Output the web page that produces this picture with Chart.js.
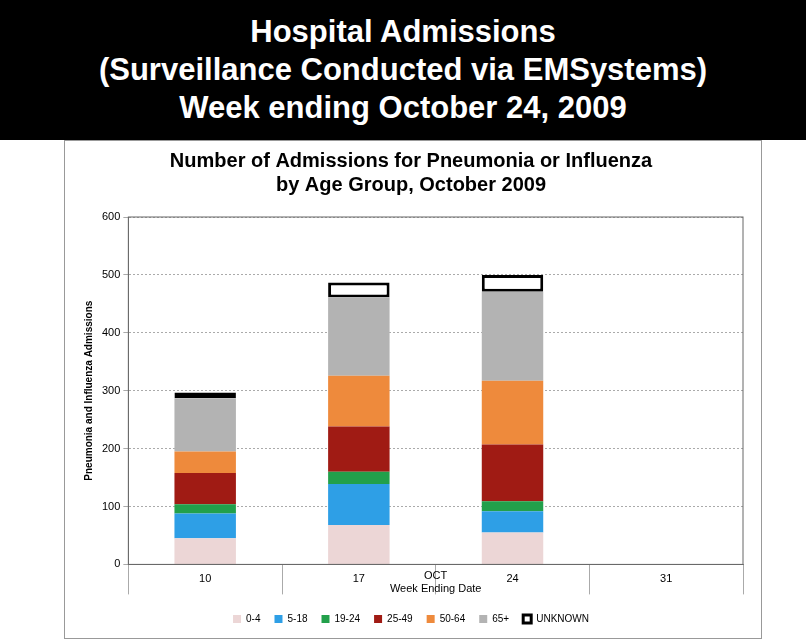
<!DOCTYPE html>
<html>
<head>
<meta charset="UTF-8">
<script src="https://cdn.jsdelivr.net/npm/chart.js"></script>
<style>
  body { margin:0; background:#fff; width:806px; height:639px; overflow:hidden; font-family:"Liberation Sans", Arial, sans-serif; }
  .banner { position:absolute; left:0; top:0; width:806px; height:140px; background:#000; color:#fff; text-align:center; font-weight:bold; font-size:31px; line-height:38px; padding-top:13px; box-sizing:border-box; }
  .caixa { position:absolute; left:64px; top:140px; width:698px; height:499px; border:1px solid #999; box-sizing:border-box; }
</style>
</head>
<body>
<div class="banner">Hospital Admissions<br>(Surveillance Conducted via EMSystems)<br>Week ending October 24, 2009</div>
<div class="caixa"><canvas id="myChart" width="696" height="497"></canvas></div>
<script>
  var semanas = ['10', '17', '24', '31']
  var idade04 = [45, 68, 55, null]
  var idade518 = [43, 71, 37, null]
  var idade1924 = [16, 21, 17, null]
  var idade2549 = [54, 78, 98, null]
  var idade5064 = [37, 88, 110, null]
  var idade65 = [92, 135, 154, null]
  var desconhecido = [10, 26, 29, null]
  var marcasY = [0, 100, 200, 300, 400, 500, 600]

  function serie(nome, dados, cor, borda) {
    return { label: nome, data: dados, backgroundColor: cor, borderColor: borda || cor,
      borderWidth: borda ? 3 : 0, barPercentage: 0.4, categoryPercentage: 1, borderSkipped: false }
  }

  const ctx = document.getElementById('myChart');
  new Chart(ctx, {
    type: 'bar',
    data: {
      labels: semanas,
      datasets: [
        serie('0-4', idade04, '#ecd6d6'),
        serie('5-18', idade518, '#2e9fe6'),
        serie('19-24', idade1924, '#22a04b'),
        serie('25-49', idade2549, '#a01b14'),
        serie('50-64', idade5064, '#ee8a3c'),
        serie('65+', idade65, '#b3b3b3'),
        serie('UNKNOWN', desconhecido, '#ffffff', '#000000')
      ]
    },
    options: {
      responsive: false,
      animation: false,
      layout: { padding: { left: 14, right: 18, top: 0, bottom: 4 } },
      plugins: {
        title: { display: true, text: ['Number of Admissions for Pneumonia or Influenza', 'by Age Group, October 2009'],
          color: '#000', font: { size: 20, weight: 'bold', family: 'Liberation Sans' }, padding: { top: 8, bottom: 20 } },
        legend: { position: 'bottom', labels: { boxWidth: 8, boxHeight: 8, color: '#000', font: { size: 10 }, padding: 14 } },
        tooltip: { enabled: false }
      },
      scales: {
        x: {
          stacked: true,
          border: { color: '#888' },
          grid: { display: true, offset: true, drawOnChartArea: false, tickLength: 30, color: '#aaa' },
          ticks: { color: '#000', font: { size: 11 }, padding: -22 },
          title: { display: true, text: ['OCT', 'Week Ending Date'], color: '#000', font: { size: 11 }, padding: { top: 6 } }
        },
        y: {
          stacked: true, min: 0, max: 600,
          afterBuildTicks: (ax) => { ax.ticks = marcasY.map(v => ({ value: v })) },
          border: { color: '#888', display: true, dash: [2, 2] },
          grid: { color: '#aaa', tickLength: 5 },
          ticks: { color: '#000', font: { size: 11 } },
          title: { display: true, text: 'Pneumonia and Influenza Admissions', color: '#000', font: { size: 10, weight: 'bold' } }
        }
      }
    },
    plugins: [{
      id: 'moldura',
      afterDraw(c) {
        var a = c.chartArea, g = c.ctx
        g.save(); g.strokeStyle = '#666'; g.lineWidth = 1
        g.strokeRect(a.left, a.top, a.right - a.left, a.bottom - a.top)
        g.restore()
      }
    }]
  });
</script>
</body>
</html>
